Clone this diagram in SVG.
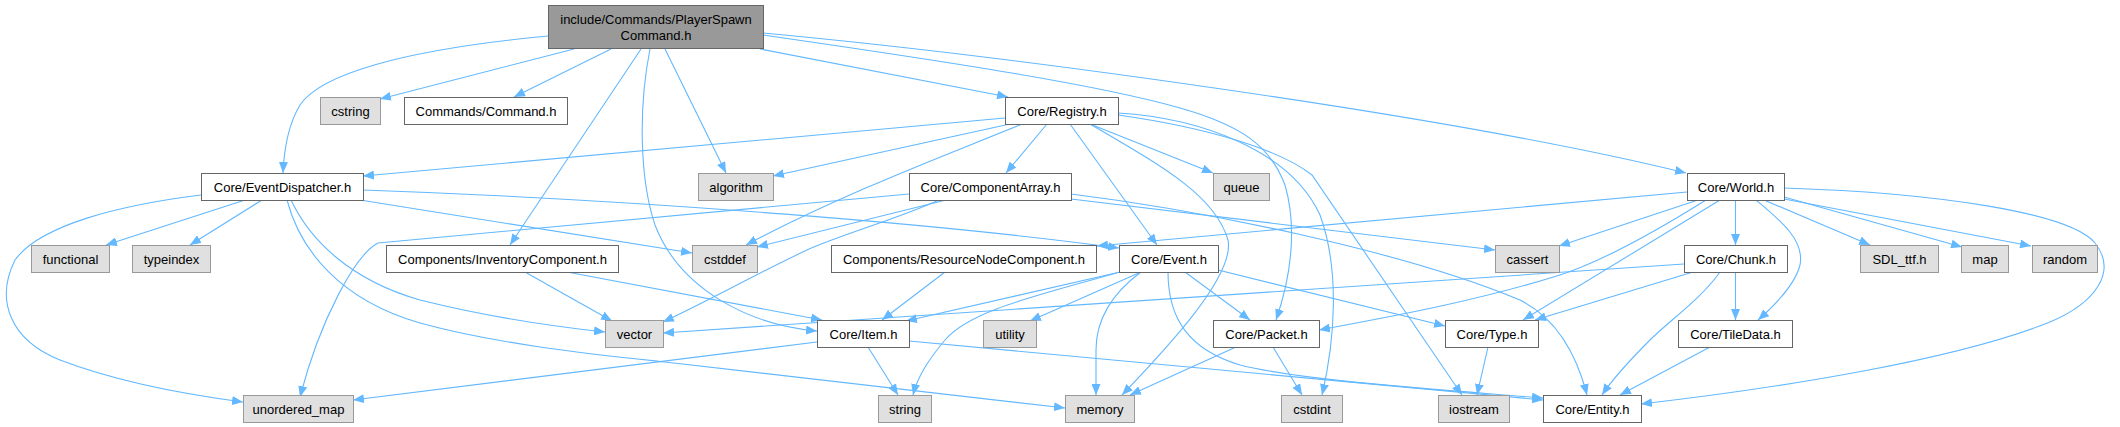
<svg xmlns="http://www.w3.org/2000/svg" width="2120" height="427" viewBox="0 0 2120 427">
<style>
.n rect{fill:#fff;stroke:#666;stroke-width:1}
.s rect{fill:#e0e0e0;stroke:#999;stroke-width:1}
.m rect{fill:#999;stroke:#666;stroke-width:1}
text{font-family:"Liberation Sans",Arial,sans-serif;font-size:13px;fill:#000;text-anchor:middle}
#edges path{fill:none;stroke:#63b8ff;stroke-width:1.1;marker-end:url(#ah)}
</style>
<defs>
<marker id="ah" markerUnits="userSpaceOnUse" markerWidth="12" markerHeight="9" refX="11" refY="4.5" orient="auto" viewBox="0 0 12 9">
<path d="M0,0 L11,4.5 L0,9 z" fill="#63b8ff" stroke="none"/>
</marker>
</defs>
<rect x="0" y="0" width="2120" height="427" fill="#fff"/>
<g id="edges">
<!-- main -->
<path d="M548,36 C400,50 320,75 300,105 C288,125 284,150 283,173"/>
<path d="M574,49 L380,99"/>
<path d="M611,49 L514,97"/>
<path d="M641,49 L510,245"/>
<path d="M650,49 C638,110 640,180 655,225 C680,290 750,325 817,331"/>
<path d="M665,49 L726,173"/>
<path d="M760,49 L1008,97"/>
<path d="M763,35 C950,62 1100,85 1180,108 C1240,125 1270,145 1285,185 C1298,230 1290,280 1276,320"/>
<path d="M763,33 C1000,55 1450,115 1686,173"/>
<!-- Registry -->
<path d="M1005,118 L363,176"/>
<path d="M1010,124 L773,176"/>
<path d="M1022,124 C960,150 850,190 746,245"/>
<path d="M1047,124 L1006,173"/>
<path d="M1090,124 L1213,173"/>
<path d="M1070,124 L1157,245"/>
<path d="M1090,124 C1160,165 1215,195 1228,240 C1235,275 1170,345 1122,395"/>
<path d="M1118,113 C1200,118 1290,150 1320,215 C1340,270 1335,340 1322,395"/>
<path d="M1118,115 C1210,128 1280,150 1312,175 L1462,395"/>
<!-- ComponentArray -->
<path d="M909,194 L378,243 C355,255 320,320 300,397"/>
<path d="M946,200 L757,247"/>
<path d="M939,200 C900,218 840,235 807,250 C760,272 710,300 663,322"/>
<path d="M1071,199 L1495,250"/>
<path d="M1071,194 C1200,210 1400,250 1520,300 C1560,320 1578,360 1587,395"/>
<!-- EventDispatcher -->
<path d="M245,200 L106,245"/>
<path d="M262,200 L190,245"/>
<path d="M201,195 C120,205 40,225 15,260 C-5,300 10,340 60,360 C120,383 190,395 243,402"/>
<path d="M291,200 C310,240 350,280 420,300 C480,315 540,325 605,332"/>
<path d="M287,200 C300,250 340,300 420,323 C500,345 600,355 665,362 L1065,408"/>
<path d="M360,200 L692,253"/>
<path d="M363,190 C650,200 950,225 1119,248"/>
<!-- World -->
<path d="M1687,192 L1097,246"/>
<path d="M1698,200 L1559,246"/>
<path d="M1706,200 C1650,235 1600,262 1560,275 C1480,300 1400,315 1319,330"/>
<path d="M1720,200 L1523,320"/>
<path d="M1735.5,200 L1735.5,245"/>
<path d="M1756,200 C1780,220 1805,240 1800,265 C1795,285 1775,305 1758,320"/>
<path d="M1764,200 L1870,245"/>
<path d="M1784,197 L1962,247"/>
<path d="M1784,199 L2031,246"/>
<path d="M1784,188 C1940,193 2070,213 2095,243 C2118,272 2095,303 2050,322 C1955,360 1780,388 1641,404"/>
<!-- Chunk -->
<path d="M1684,264 L663,333"/>
<path d="M1693,272 L1535,320"/>
<path d="M1735.5,272 L1735.5,320"/>
<path d="M1720,272 C1700,300 1670,320 1650,340 C1630,360 1612,380 1602,395"/>
<!-- TileData -->
<path d="M1710,347 L1620,395"/>
<!-- Event -->
<path d="M1120,272 L906,321"/>
<path d="M1120,272 C1040,295 970,310 945,340 C930,358 918,375 913,395"/>
<path d="M1141,272 L1030,321"/>
<path d="M1141,272 C1110,295 1096,320 1096,350 L1096,395"/>
<path d="M1168,272 C1168,320 1190,350 1240,365 C1300,380 1420,388 1543,398"/>
<path d="M1185,272 L1250,320"/>
<path d="M1218,270 L1445,326"/>
<!-- Item -->
<path d="M817,342 L353,400"/>
<path d="M868,347 L898,395"/>
<path d="M909,341 L1543,400"/>
<!-- Packet -->
<path d="M1236,347 L1130,395"/>
<path d="M1273,347 L1302,395"/>
<!-- Type -->
<path d="M1488,347 L1477,395"/>
<!-- InventoryComponent -->
<path d="M525,272 L612,321"/>
<path d="M567,272 L822,320"/>
<!-- ResourceNode -->
<path d="M945,272 L882,320"/>
</g>
<g id="n_main" class="m"><rect x="548.5" y="5.5" width="215" height="43"/><text x="656" y="24">include/Commands/PlayerSpawn</text><text x="656" y="40">Command.h</text></g>
<g id="n_cstring" class="s"><rect x="320.5" y="97.5" width="60" height="27"/><text x="350.5" y="115.5">cstring</text></g>
<g id="n_command" class="n"><rect x="404.5" y="97.5" width="163" height="27"/><text x="486" y="115.5">Commands/Command.h</text></g>
<g id="n_registry" class="n"><rect x="1005.5" y="97.5" width="113" height="27"/><text x="1062" y="115.5">Core/Registry.h</text></g>
<g id="n_world" class="n"><rect x="1687.5" y="173.5" width="97" height="27"/><text x="1736" y="191.5">Core/World.h</text></g>
<g id="n_eventdispatcher" class="n"><rect x="201.5" y="173.5" width="162" height="27"/><text x="282.5" y="191.5">Core/EventDispatcher.h</text></g>
<g id="n_algorithm" class="s"><rect x="698.5" y="173.5" width="75" height="27"/><text x="736" y="191.5">algorithm</text></g>
<g id="n_componentarray" class="n"><rect x="909.5" y="173.5" width="162" height="27"/><text x="990.5" y="191.5">Core/ComponentArray.h</text></g>
<g id="n_queue" class="s"><rect x="1213.5" y="173.5" width="56" height="27"/><text x="1241.5" y="191.5">queue</text></g>
<g id="n_functional" class="s"><rect x="31.5" y="245.5" width="78" height="27"/><text x="70.5" y="263.5">functional</text></g>
<g id="n_typeindex" class="s"><rect x="132.5" y="245.5" width="78" height="27"/><text x="171.5" y="263.5">typeindex</text></g>
<g id="n_inventory" class="n"><rect x="386.5" y="245.5" width="232" height="27"/><text x="502.5" y="263.5">Components/InventoryComponent.h</text></g>
<g id="n_cstddef" class="s"><rect x="692.5" y="245.5" width="65" height="27"/><text x="725" y="263.5">cstddef</text></g>
<g id="n_resourcenode" class="n"><rect x="831.5" y="245.5" width="265" height="27"/><text x="964" y="263.5">Components/ResourceNodeComponent.h</text></g>
<g id="n_event" class="n"><rect x="1119.5" y="245.5" width="99" height="27"/><text x="1169" y="263.5">Core/Event.h</text></g>
<g id="n_cassert" class="s"><rect x="1495.5" y="245.5" width="64" height="27"/><text x="1527.5" y="263.5">cassert</text></g>
<g id="n_chunk" class="n"><rect x="1684.5" y="245.5" width="103" height="27"/><text x="1736" y="263.5">Core/Chunk.h</text></g>
<g id="n_sdlttf" class="s"><rect x="1860.5" y="245.5" width="78" height="27"/><text x="1899.5" y="263.5">SDL_ttf.h</text></g>
<g id="n_map" class="s"><rect x="1961.5" y="245.5" width="47" height="27"/><text x="1985" y="263.5">map</text></g>
<g id="n_random" class="s"><rect x="2032.5" y="245.5" width="65" height="27"/><text x="2065" y="263.5">random</text></g>
<g id="n_vector" class="s"><rect x="605.5" y="320.5" width="58" height="27"/><text x="634.5" y="338.5">vector</text></g>
<g id="n_item" class="n"><rect x="817.5" y="320.5" width="92" height="27"/><text x="863.5" y="338.5">Core/Item.h</text></g>
<g id="n_utility" class="s"><rect x="983.5" y="320.5" width="53" height="27"/><text x="1010" y="338.5">utility</text></g>
<g id="n_packet" class="n"><rect x="1213.5" y="320.5" width="106" height="27"/><text x="1266.5" y="338.5">Core/Packet.h</text></g>
<g id="n_type" class="n"><rect x="1445.5" y="320.5" width="93" height="27"/><text x="1492" y="338.5">Core/Type.h</text></g>
<g id="n_tiledata" class="n"><rect x="1678.5" y="320.5" width="114" height="27"/><text x="1735.5" y="338.5">Core/TileData.h</text></g>
<g id="n_unordered_map" class="s"><rect x="243.5" y="395.5" width="110" height="27"/><text x="298.5" y="413.5">unordered_map</text></g>
<g id="n_string" class="s"><rect x="878.5" y="395.5" width="53" height="27"/><text x="905" y="413.5">string</text></g>
<g id="n_memory" class="s"><rect x="1065.5" y="395.5" width="69" height="27"/><text x="1100" y="413.5">memory</text></g>
<g id="n_cstdint" class="s"><rect x="1281.5" y="395.5" width="61" height="27"/><text x="1312" y="413.5">cstdint</text></g>
<g id="n_iostream" class="s"><rect x="1438.5" y="395.5" width="71" height="27"/><text x="1474" y="413.5">iostream</text></g>
<g id="n_entity" class="n"><rect x="1543.5" y="395.5" width="98" height="27"/><text x="1592.5" y="413.5">Core/Entity.h</text></g>
</svg>
